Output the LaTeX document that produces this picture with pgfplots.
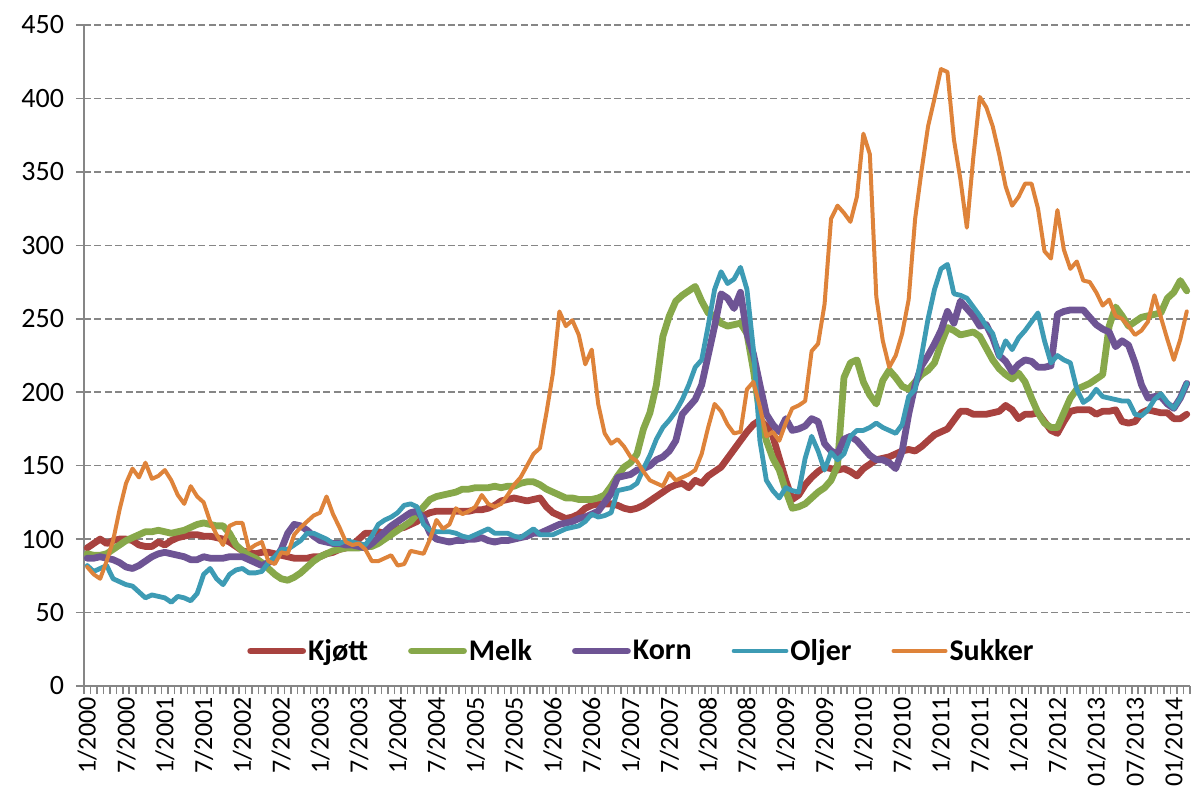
\documentclass[border=0pt]{standalone}
\usepackage{pgfplots}
\pgfplotsset{compat=1.18}
\usepackage{pgfplotstable}
\usepackage{fontspec}
\setmainfont{Carlito}

\definecolor{cK}{RGB}{168,66,63}
\definecolor{cM}{RGB}{135,168,74}
\definecolor{cKo}{RGB}{110,84,148}
\definecolor{cO}{RGB}{61,155,180}
\definecolor{cS}{RGB}{222,131,58}
\definecolor{axgray}{RGB}{134,134,134}

\pgfplotstableread{
m K M Ko O S
0 94 90 87 82 81
1 97 89 87 78 76
2 100 89 88 80 73
3 97 90 87 82 85
4 99 93 86 73 99
5 100 96 84 71 120
6 100 99 81 69 138
7 99 101 80 68 148
8 96 103 82 64 142
9 95 105 85 60 152
10 95 105 88 62 141
11 98 106 90 61 143
12 96 105 91 60 147
13 99 104 90 57 140
14 101 105 89 61 130
15 102 106 88 60 124
16 103 108 86 58 136
17 103 110 86 63 129
18 102 111 88 76 125
19 102 110 87 80 112
20 101 109 87 73 103
21 100 109 87 69 96
22 98 104 88 76 109
23 95 96 88 79 111
24 92 92 88 80 111
25 91 89 86 77 93
26 90 87 84 77 96
27 91 84 82 78 98
28 91 80 84 84 85
29 90 76 86 88 83
30 89 73 93 93 91
31 88 72 104 93 90
32 87 74 110 96 103
33 87 77 109 99 108
34 87 81 106 104 112
35 88 85 102 104 116
36 88 88 99 102 118
37 90 90 98 100 129
38 91 92 97 97 117
39 93 93 97 97 108
40 94 94 96 99 98
41 96 94 96 98 96
42 100 94 95 97 97
43 104 95 94 96 93
44 104 95 97 102 85
45 105 97 101 110 85
46 104 100 105 113 87
47 106 103 109 115 89
48 107 106 112 118 82
49 108 109 115 123 83
50 110 112 118 124 92
51 112 117 119 122 91
52 116 122 114 110 90
53 118 127 104 106 100
54 119 129 100 105 113
55 119 130 99 105 107
56 119 131 98 105 110
57 119 132 99 104 121
58 119 134 99 102 117
59 119 134 100 101 119
60 120 135 100 103 122
61 120 135 101 105 130
62 121 135 99 107 124
63 123 136 98 104 122
64 126 135 99 104 124
65 127 136 99 104 130
66 128 136 100 102 137
67 127 138 101 101 142
68 126 139 102 104 150
69 127 139 104 107 158
70 128 137 104 103 162
71 122 134 106 103 186
72 118 132 108 103 213
73 116 130 110 105 255
74 114 128 111 107 245
75 115 128 112 108 249
76 117 127 114 109 239
77 121 127 115 112 219
78 123 127 117 117 229
79 124 128 119 115 192
80 124 130 125 116 172
81 124 136 131 118 165
82 123 143 142 133 168
83 121 149 143 134 163
84 120 152 144 135 156
85 121 158 147 138 153
86 123 175 148 148 146
87 126 186 150 157 140
88 129 205 154 168 138
89 132 238 156 176 136
90 135 252 160 181 145
91 137 262 167 187 140
92 138 266 185 195 142
93 135 269 190 205 144
94 140 272 195 217 147
95 138 262 205 222 158
96 143 254 225 245 176
97 146 252 245 270 192
98 149 247 267 282 187
99 155 245 264 274 178
100 161 246 257 277 172
101 167 247 268 285 173
102 173 240 240 270 202
103 178 215 226 229 207
104 181 185 205 167 190
105 177 167 185 140 170
106 170 155 178 133 173
107 155 147 173 128 167
108 140 133 182 135 179
109 127 121 174 133 189
110 130 122 175 132 191
111 137 124 177 155 194
112 142 128 182 170 228
113 146 132 180 160 233
114 149 135 165 147 260
115 148 140 160 159 318
116 147 150 158 154 327
117 148 210 168 158 322
118 146 220 170 170 316
119 143 222 167 174 333
120 148 207 162 174 376
121 151 198 157 176 362
122 154 192 154 179 265
123 155 208 154 176 235
124 156 215 152 174 217
125 158 210 148 172 225
126 160 204 160 178 240
127 161 202 185 197 263
128 160 207 205 202 318
129 163 212 218 225 351
130 167 215 225 250 381
131 171 220 233 270 400
132 173 233 242 284 420
133 175 244 255 287 418
134 181 242 247 267 372
135 187 239 262 266 345
136 187 240 257 264 312
137 185 241 252 258 360
138 185 238 245 252 401
139 185 230 246 245 394
140 186 222 237 240 381
141 187 216 225 224 362
142 191 212 221 235 340
143 188 209 214 229 327
144 182 213 219 237 333
145 185 207 222 242 342
146 185 196 221 248 342
147 186 186 217 254 325
148 180 179 217 235 296
149 174 176 218 220 291
150 172 176 253 225 324
151 180 186 255 222 297
152 187 196 256 220 284
153 188 202 256 202 289
154 188 204 256 193 276
155 188 206 251 196 275
156 185 209 246 202 268
157 187 212 243 197 259
158 187 245 241 196 263
159 188 258 231 195 252
160 180 252 235 194 250
161 179 245 232 194 245
162 180 248 220 185 239
163 186 251 205 184 242
164 188 252 196 188 248
165 187 253 197 195 266
166 186 254 197 199 251
167 186 264 192 193 236
168 182 268 189 189 222
169 182 276 196 196 236
170 185 269 206 206 255
}\datatable

\begin{document}
\begin{tikzpicture}
\begin{axis}[
  scale only axis, width=553bp, height=330.5bp,
  xmin=-0.5, xmax=170.5, ymin=0, ymax=450,
  axis x line=bottom, axis y line=left,
  axis line style={-, draw=axgray, line width=0.8bp},
  ytick={0,50,...,450},
  ymajorgrids,
  major grid style={draw=axgray, line width=0.8bp, dash pattern=on 3.5bp off 1.7bp},
  xtick={-0.5,0.5,...,170.5},
  xticklabels={},
  extra x ticks={0,6,...,168},
  extra x tick labels={1/2000,7/2000,1/2001,7/2001,1/2002,7/2002,1/2003,7/2003,1/2004,7/2004,1/2005,7/2005,1/2006,7/2006,1/2007,7/2007,1/2008,7/2008,1/2009,7/2009,1/2010,7/2010,1/2011,7/2011,1/2012,7/2012,01/2013,07/2013,01/2014},
  extra x tick style={major tick length=0pt, grid=none},
  x tick label style={rotate=90, anchor=east, inner xsep=5.5bp, font=\fontsize{13bp}{15bp}\selectfont},
  y tick label style={xshift=-2.5bp, font=\fontsize{14bp}{16bp}\selectfont, /pgf/number format/assume math mode=true},
  tick align=outside,
  major tick length=4bp,
  tick style={draw=axgray, line width=0.8bp},
  legend columns=5,
  legend style={at={(0.504,0.053)}, anchor=center, draw=none, fill=none,
    font=\fontsize{15bp}{17bp}\selectfont\bfseries,
    /tikz/every even column/.append style={column sep=19bp},
    nodes={inner sep=1bp}},
  legend image code/.code={\draw[#1, line cap=round] (0bp,0bp) -- (26bp,0bp);},
  every axis plot/.append style={line join=round, line cap=round, mark=none},
]
\addplot[cK, line width=3.4bp] table[x=m,y=K]{\datatable};
\addlegendentry{Kjøtt}
\addplot[cM, line width=3.4bp] table[x=m,y=M]{\datatable};
\addlegendentry{Melk}
\addplot[cKo, line width=3.4bp] table[x=m,y=Ko]{\datatable};
\addlegendentry{Korn}
\addplot[cO, line width=2.4bp] table[x=m,y=O]{\datatable};
\addlegendentry{Oljer}
\addplot[cS, line width=2bp] table[x=m,y=S]{\datatable};
\addlegendentry{Sukker}
\coordinate (bl) at (rel axis cs:0,0);
\coordinate (tr) at (rel axis cs:1,1);
\end{axis}
\pgfresetboundingbox
\path ([shift={(-42bp,-53bp)}]bl) rectangle ([shift={(3.5bp,12.5bp)}]tr);
\end{tikzpicture}
\end{document}
